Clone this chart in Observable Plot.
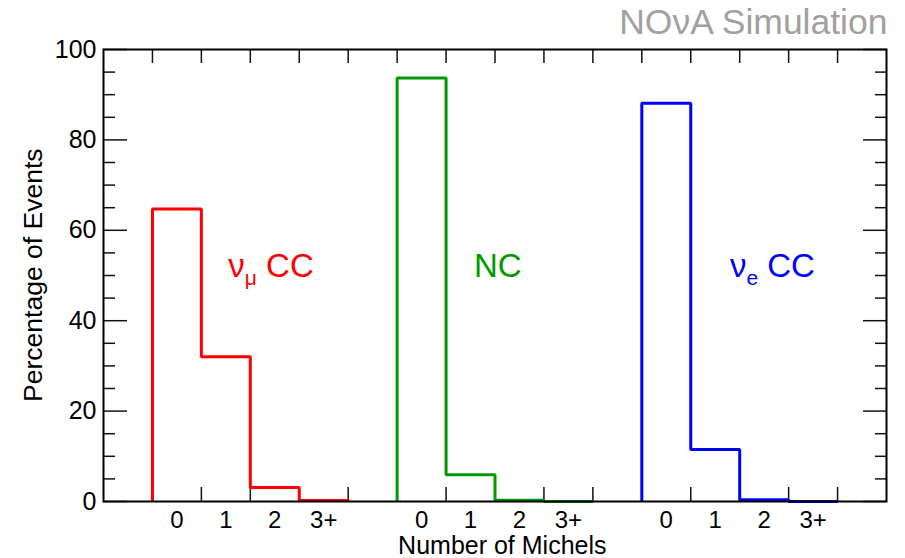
<!DOCTYPE html>
<html>
<head>
<meta charset="utf-8">
<script src="https://cdn.jsdelivr.net/npm/d3@7"></script>
<script src="https://cdn.jsdelivr.net/npm/@observablehq/plot@0.6"></script>
<style>
  html, body { margin: 0; padding: 0; background: #fff; }
</style>
</head>
<body>
<div id="chart"></div>
<script>
// ---- data ----
const groups = ["ν_μ CC", "NC", "ν_e CC"];
const michelLabels = ["0", "1", "2", "3+"];
const numuCC = [64.7, 32.0, 3.1, 0.2];
const nc = [93.7, 5.9, 0.3, 0.0];
const nueCC = [88.1, 11.5, 0.4, 0.0];
const yTickValues = [0, 20, 40, 60, 80, 100];
const groupColors = ["#ff0000", "#009a00", "#0000ff"];

// ---- layout helpers ----
const W = 905, H = 558;
const mL = 103, mR = 19, mT = 49, mB = 57;
const innerW = W - mL - mR, innerH = H - mT - mB;
const nBins = michelLabels.length;
const series = [numuCC, nc, nueCC];
const groupStart = series.map((_, g) => 1 + g * (nBins + 1));
const nTotal = groupStart[groupStart.length - 1] + nBins + 1;

// step outline points per group
const stepPoints = series.map((vals, g) => {
  const s = groupStart[g];
  const pts = [{x: s, y: 0}];
  vals.forEach((v, i) => { pts.push({x: s + i, y: v}); pts.push({x: s + i + 1, y: v}); });
  pts.push({x: s + nBins, y: 0});
  return pts;
});

// x tick labels at bin centers
const centerLabel = new Map();
groupStart.forEach(s => michelLabels.forEach((lab, i) => centerLabel.set(s + i + 0.5, lab)));
const centers = [...centerLabel.keys()];
const binEdges = d3.range(1, nTotal);
const yMinor = d3.range(0, 101, 5).filter(v => v % 20 !== 0);

const labelShift = [1.55, 1.57, 1.8];
const labelRows = groups.map((name, g) => ({name, x: groupStart[g] + labelShift[g], y: 52, color: groupColors[g]}));

const tickStyle = {stroke: "#111", strokeWidth: 1.5};

const chart = Plot.plot({
  width: W, height: H,
  marginLeft: mL, marginRight: mR, marginTop: mT, marginBottom: mB,
  x: {domain: [0, nTotal]},
  y: {domain: [0, 100]},
  style: {fontFamily: "'Liberation Sans', Arial, sans-serif", fontSize: "25px", background: "#fff", color: "#000"},
  marks: [
    Plot.ruleX(binEdges, {x: d => d, insetTop: innerH - 14, ...tickStyle}),
    Plot.ruleX(binEdges, {x: d => d, insetBottom: innerH - 14, ...tickStyle}),
    Plot.ruleY(yTickValues, {y: d => d, insetRight: innerW - 24, ...tickStyle}),
    Plot.ruleY(yTickValues, {y: d => d, insetLeft: innerW - 23, ...tickStyle}),
    Plot.ruleY(yMinor, {y: d => d, insetRight: innerW - 12, ...tickStyle}),
    Plot.ruleY(yMinor, {y: d => d, insetLeft: innerW - 11, ...tickStyle}),
    Plot.axisY({ticks: yTickValues, tickSize: 0, tickPadding: 7, label: null, fontSize: 25}),
    Plot.axisX({ticks: centers, tickFormat: d => centerLabel.get(d), tickSize: 0, tickPadding: 9, label: null, fontSize: 24}),
    ...stepPoints.map((pts, g) => Plot.line(pts, {x: "x", y: "y", stroke: groupColors[g], strokeWidth: 3, strokeLinejoin: "miter", strokeLinecap: "butt"})),
    Plot.frame({stroke: "#000", strokeWidth: 2}),
    Plot.text(labelRows, {x: "x", y: "y", text: "name", fill: "color", fontSize: 33, textAnchor: "start"}),
    Plot.text(["Percentage of Events"], {frameAnchor: "top-left", rotate: -90, textAnchor: "end", dx: -80, dy: 99, fontSize: 26.5}),
    Plot.text(["Number of Michels"], {frameAnchor: "bottom-right", textAnchor: "end", dx: -280, dy: 52.5, fontSize: 25}),
    Plot.text(["NOνA Simulation"], {frameAnchor: "top-right", textAnchor: "end", dx: 1, dy: -16, fontSize: 35.5, fill: "#a0a0a0", lineAnchor: "bottom"})
  ]
});

// subscripts for neutrino flavour labels
d3.select(chart).selectAll("text").each(function() {
  const t = this.textContent;
  if (t.includes("_") && !this.querySelector("tspan")) {
    const m = t.match(/^(.*)_(.)(.*)$/);
    const sel = d3.select(this);
    sel.text(null);
    sel.append("tspan").text(m[1]);
    sel.append("tspan").attr("dy", 8).attr("font-size", 21).text(m[2]);
    sel.append("tspan").attr("dy", -8).text(m[3]);
  }
});

document.getElementById("chart").appendChild(chart);
</script>
</body>
</html>
